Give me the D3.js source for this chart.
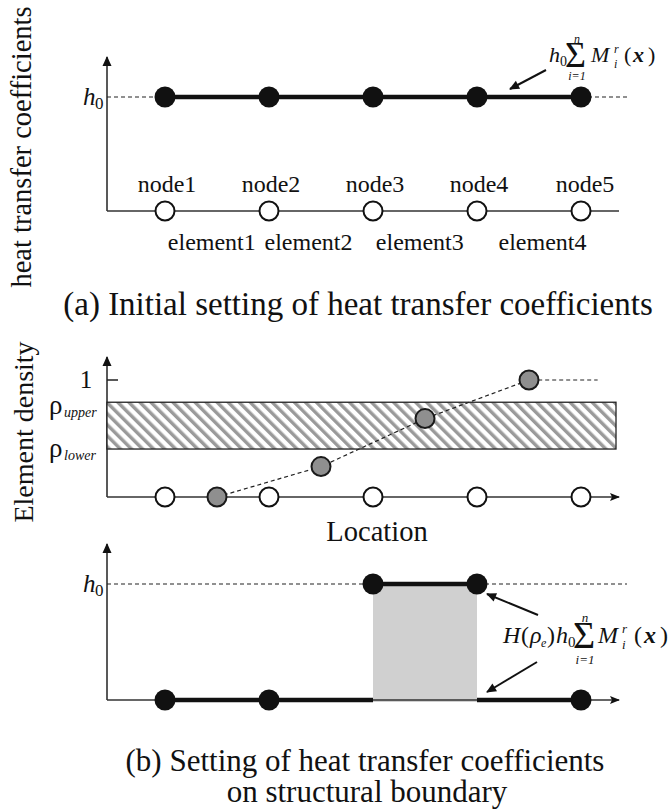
<!DOCTYPE html>
<html>
<head>
<meta charset="utf-8">
<script src="https://cdn.jsdelivr.net/npm/d3@7"></script>
<style>
  body { margin: 0; background: #fff; }
  svg { display: block; }
  text { font-family: "Liberation Serif", "Times New Roman", serif; fill: #111; }
</style>
</head>
<body>
<div id="chart"></div>
<script>
// DATA
var nodes = [1, 2, 3, 4, 5];
var nodeLabels = ['node1', 'node2', 'node3', 'node4', 'node5'];
var elementLabels = ['element1', 'element2', 'element3', 'element4'];
var elementLabelPos = [1.45, 2.38, 3.45, 4.63];
var initialH = [1, 1, 1, 1, 1];           // in units of h0
var elementPos = [1.5, 2.5, 3.5, 4.5];
var elementDensity = [0, 0.26, 0.67, 1];
var densityTailPos = 5.16;
var rhoUpper = 0.81;
var rhoLower = 0.41;
var finalNodeH = [0, 0, 1, 1, 0];          // H(rho_e) h0 at each node
var finalElementH = [0, 0, 1, 0];

// LAYOUT
var width = 672, height = 812;
var axisLeft = 107, axisRight = 619;

var svg = d3.select('#chart').append('svg')
  .attr('width', width)
  .attr('height', height);

var defs = svg.append('defs');
defs.append('marker')
  .attr('id', 'arr')
  .attr('viewBox', '0 0 10 10')
  .attr('refX', 9).attr('refY', 5)
  .attr('markerWidth', 10).attr('markerHeight', 10)
  .attr('markerUnits', 'userSpaceOnUse')
  .attr('orient', 'auto')
  .append('path').attr('d', 'M0,1 L10,5 L0,9 L2,5 Z').attr('fill', '#111');
defs.append('marker')
  .attr('id', 'arrUp')
  .attr('viewBox', '0 0 10 10')
  .attr('refX', 9).attr('refY', 5)
  .attr('markerWidth', 14).attr('markerHeight', 10)
  .attr('markerUnits', 'userSpaceOnUse')
  .attr('orient', 'auto')
  .append('path').attr('d', 'M0,0.5 L10,5 L0,9.5 Z').attr('fill', '#111');

var hatch = defs.append('pattern')
  .attr('id', 'hatch')
  .attr('patternUnits', 'userSpaceOnUse')
  .attr('width', 7.8).attr('height', 7.8)
  .attr('patternTransform', 'rotate(-45)');
hatch.append('rect').attr('width', 7.8).attr('height', 7.8).attr('fill', '#fff');
hatch.append('rect').attr('width', 3.4).attr('height', 7.8).attr('fill', '#9a9a9a');

var x = d3.scaleLinear().domain([1, 5]).range([165, 581]);

// helper: math-ish formula from positioned pieces
function formula(x0, y0, parts) {
  var g = svg.append('g').attr('transform', 'translate(' + x0 + ',' + y0 + ')');
  parts.forEach(function(p) {
    g.append('text')
      .attr('x', p.dx).attr('y', p.dy || 0)
      .attr('font-size', p.size)
      .attr('font-style', p.italic ? 'italic' : 'normal')
      .attr('font-weight', p.bold ? 'bold' : 'normal')
      .attr('text-anchor', p.anchor || 'start')
      .text(p.t);
  });
}

function yAxis(top, bottom) {
  svg.append('line')
    .attr('x1', axisLeft).attr('x2', axisLeft)
    .attr('y1', bottom).attr('y2', top)
    .attr('stroke', '#222').attr('stroke-width', 1.5)
    .attr('marker-end', 'url(#arrUp)');
}

function arrow(x1, y1, x2, y2) {
  svg.append('line')
    .attr('x1', x1).attr('y1', y1).attr('x2', x2).attr('y2', y2)
    .attr('stroke', '#111').attr('stroke-width', 2)
    .attr('marker-end', 'url(#arrUp)');
}

// ---------------- (a) INITIAL SETTING ----------------
var yA = d3.scaleLinear().domain([0, 1]).range([211, 97]);

yAxis(57, yA(0));
svg.append('line')
  .attr('x1', axisLeft).attr('x2', axisRight)
  .attr('y1', yA(0)).attr('y2', yA(0))
  .attr('stroke', '#333').attr('stroke-width', 1.5);

// dashed h0 reference
svg.append('line')
  .attr('x1', axisLeft).attr('x2', x(1))
  .attr('y1', yA(1)).attr('y2', yA(1))
  .attr('stroke', '#222').attr('stroke-width', 1.2).attr('stroke-dasharray', '4,3');
svg.append('line')
  .attr('x1', x(5)).attr('x2', 627)
  .attr('y1', yA(1)).attr('y2', yA(1))
  .attr('stroke', '#222').attr('stroke-width', 1.2).attr('stroke-dasharray', '4,3');

var lineA = d3.line()
  .x(function(d, i) { return x(nodes[i]); })
  .y(function(d) { return yA(d); });
svg.append('path')
  .datum(initialH)
  .attr('d', lineA)
  .attr('fill', 'none').attr('stroke', '#111').attr('stroke-width', 4.5);

svg.selectAll('.hA').data(initialH).enter().append('circle')
  .attr('cx', function(d, i) { return x(nodes[i]); })
  .attr('cy', function(d) { return yA(d); })
  .attr('r', 10.5).attr('fill', '#111');

svg.selectAll('.openA').data(nodes).enter().append('circle')
  .attr('cx', function(d) { return x(d); })
  .attr('cy', yA(0))
  .attr('r', 9.5).attr('fill', '#fff').attr('stroke', '#111').attr('stroke-width', 2);

svg.selectAll('.nodeLab').data(nodeLabels).enter().append('text')
  .attr('x', function(d, i) { return x(nodes[i]) + (i === 4 ? 4 : 2); })
  .attr('y', 192)
  .attr('text-anchor', 'middle')
  .attr('font-size', 24)
  .text(function(d) { return d; });

svg.selectAll('.elLab').data(elementLabels).enter().append('text')
  .attr('x', function(d, i) { return x(elementLabelPos[i]); })
  .attr('y', 250)
  .attr('text-anchor', 'middle')
  .attr('font-size', 24)
  .text(function(d) { return d; });

// h0 label
formula(83, 105, [
  { t: 'h', dx: 0, size: 25, italic: true },
  { t: '0', dx: 12, dy: 4, size: 17 }
]);

// y label
svg.append('text')
  .attr('transform', 'translate(31,147) rotate(-90)')
  .attr('text-anchor', 'middle')
  .attr('font-size', 28.5)
  .text('heat transfer coefficients');

// formula + pointer
formula(549, 62, [
  { t: 'h', dx: 0, size: 22, italic: true },
  { t: '0', dx: 11, dy: 4, size: 14 },
  { t: '\u03A3', dx: 16, dy: 5, size: 36 },
  { t: 'n', dx: 28, dy: -19, size: 12, italic: true, anchor: 'middle' },
  { t: 'i=1', dx: 28, dy: 18, size: 12, italic: true, anchor: 'middle' },
  { t: 'M', dx: 42, size: 22, italic: true },
  { t: 'r', dx: 65, dy: -9, size: 12, italic: true },
  { t: 'i', dx: 65, dy: 6, size: 12, italic: true },
  { t: '(', dx: 75, size: 22 },
  { t: 'x', dx: 84, size: 22, italic: true, bold: true },
  { t: ')', dx: 99, size: 22 }
]);
arrow(546, 70, 510, 89);

// caption (a)
svg.append('text')
  .attr('x', 358).attr('y', 315)
  .attr('text-anchor', 'middle')
  .attr('font-size', 33)
  .text('(a) Initial setting of heat transfer coefficients');

// ---------------- ELEMENT DENSITY ----------------
var yB = d3.scaleLinear().domain([0, 1]).range([497, 380]);

yAxis(357, yB(0));
svg.append('line')
  .attr('x1', axisLeft).attr('x2', axisRight)
  .attr('y1', yB(0)).attr('y2', yB(0))
  .attr('stroke', '#333').attr('stroke-width', 1.5)
  .attr('marker-end', 'url(#arr)');

// tick at 1
svg.append('line')
  .attr('x1', axisLeft).attr('x2', axisLeft + 11)
  .attr('y1', yB(1)).attr('y2', yB(1))
  .attr('stroke', '#222').attr('stroke-width', 1.5);
svg.append('text')
  .attr('x', 86).attr('y', yB(1) + 8)
  .attr('text-anchor', 'middle')
  .attr('font-size', 25)
  .text('1');

// hatched band
svg.append('rect')
  .attr('x', axisLeft).attr('y', yB(rhoUpper))
  .attr('width', 616 - axisLeft).attr('height', yB(rhoLower) - yB(rhoUpper))
  .attr('fill', 'url(#hatch)')
  .attr('stroke', '#222').attr('stroke-width', 1.3);

formula(49, yB(rhoUpper) + 12, [
  { t: '\u03C1', dx: 0, size: 27 },
  { t: 'upper', dx: 15, dy: 3, size: 14, italic: true }
]);
formula(49, yB(rhoLower) + 8, [
  { t: '\u03C1', dx: 0, size: 27 },
  { t: 'lower', dx: 15, dy: 3, size: 14, italic: true }
]);

svg.selectAll('.openB').data(nodes).enter().append('circle')
  .attr('cx', function(d) { return x(d); })
  .attr('cy', yB(0))
  .attr('r', 9.5).attr('fill', '#fff').attr('stroke', '#111').attr('stroke-width', 2);

var densLine = elementDensity.map(function(d, i) { return [elementPos[i], d]; });
densLine.push([densityTailPos, elementDensity[elementDensity.length - 1]]);
svg.append('path')
  .datum(densLine)
  .attr('d', d3.line()
    .x(function(d) { return x(d[0]); })
    .y(function(d) { return yB(d[1]); }))
  .attr('fill', 'none').attr('stroke', '#222').attr('stroke-width', 1.2)
  .attr('stroke-dasharray', '4,3');

svg.selectAll('.dens').data(elementDensity).enter().append('circle')
  .attr('cx', function(d, i) { return x(elementPos[i]); })
  .attr('cy', function(d) { return yB(d); })
  .attr('r', 9.5).attr('fill', '#8f8f8f').attr('stroke', '#1a1a1a').attr('stroke-width', 2);

svg.append('text')
  .attr('transform', 'translate(33,432) rotate(-90)')
  .attr('text-anchor', 'middle')
  .attr('font-size', 28)
  .text('Element density');

svg.append('text')
  .attr('x', 377).attr('y', 541)
  .attr('text-anchor', 'middle')
  .attr('font-size', 28.5)
  .text('Location');

// ---------------- (b) FINAL SETTING ----------------
var yC = d3.scaleLinear().domain([0, 1]).range([700, 584]);

yAxis(544, yC(0));

// grey area under raised elements
svg.selectAll('.area').data(finalElementH.map(function(d, i) { return { h: d, i: i }; }))
  .enter()
  .filter(function(d) { return d.h > 0; })
  .append('rect')
  .attr('x', function(d) { return x(nodes[d.i]); })
  .attr('y', function(d) { return yC(d.h); })
  .attr('width', function(d) { return x(nodes[d.i + 1]) - x(nodes[d.i]); })
  .attr('height', function(d) { return yC(0) - yC(d.h) + 2; })
  .attr('fill', '#d0d0d0');

svg.append('line')
  .attr('x1', axisLeft).attr('x2', axisRight)
  .attr('y1', yC(0)).attr('y2', yC(0))
  .attr('stroke', '#333').attr('stroke-width', 1.5)
  .attr('marker-end', 'url(#arr)');

svg.append('line')
  .attr('x1', axisLeft).attr('x2', 627)
  .attr('y1', yC(1)).attr('y2', yC(1))
  .attr('stroke', '#222').attr('stroke-width', 1.2).attr('stroke-dasharray', '4,3');

// element segments
svg.selectAll('.seg').data(finalElementH).enter().append('line')
  .attr('x1', function(d, i) { return x(nodes[i]); })
  .attr('x2', function(d, i) { return x(nodes[i + 1]); })
  .attr('y1', function(d) { return yC(d); })
  .attr('y2', function(d) { return yC(d); })
  .attr('stroke', '#111').attr('stroke-width', 4.5);

svg.selectAll('.hC').data(finalNodeH).enter().append('circle')
  .attr('cx', function(d, i) { return x(nodes[i]); })
  .attr('cy', function(d) { return yC(d); })
  .attr('r', 10.5).attr('fill', '#111');

formula(83, yC(1) + 8, [
  { t: 'h', dx: 0, size: 25, italic: true },
  { t: '0', dx: 12, dy: 4, size: 17 }
]);

formula(503, 643, [
  { t: 'H', dx: 0, size: 24, italic: true },
  { t: '(', dx: 18, size: 24 },
  { t: '\u03C1', dx: 27, size: 24, italic: true },
  { t: 'e', dx: 38, dy: 4, size: 12, italic: true },
  { t: ')', dx: 44, size: 24 },
  { t: 'h', dx: 53, size: 24, italic: true },
  { t: '0', dx: 65, dy: 4, size: 15 },
  { t: '\u03A3', dx: 70, dy: 5, size: 38 },
  { t: 'n', dx: 82, dy: -21, size: 13, italic: true, anchor: 'middle' },
  { t: 'i=1', dx: 82, dy: 21, size: 13, italic: true, anchor: 'middle' },
  { t: 'M', dx: 95, size: 24, italic: true },
  { t: 'r', dx: 119, dy: -10, size: 13, italic: true },
  { t: 'i', dx: 119, dy: 6, size: 13, italic: true },
  { t: '(', dx: 131, size: 24 },
  { t: 'x', dx: 141, size: 24, italic: true, bold: true },
  { t: ')', dx: 157, size: 24 }
]);
arrow(538, 615, 487, 594);
arrow(537, 662, 487, 692);

svg.append('text')
  .attr('x', 365).attr('y', 771)
  .attr('text-anchor', 'middle')
  .attr('font-size', 31)
  .text('(b) Setting of heat transfer coefficients');
svg.append('text')
  .attr('x', 367).attr('y', 802)
  .attr('text-anchor', 'middle')
  .attr('font-size', 31)
  .text('on structural boundary');
</script>
</body>
</html>
